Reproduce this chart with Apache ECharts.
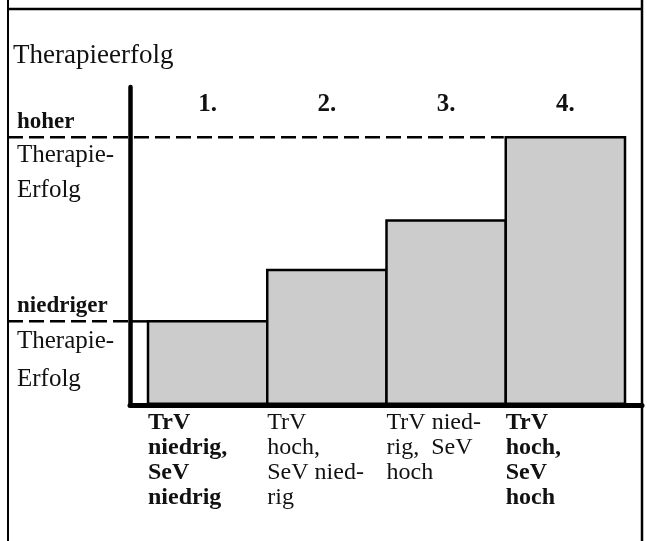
<!DOCTYPE html>
<html>
<head>
<meta charset="utf-8">
<script src="https://cdn.jsdelivr.net/npm/echarts@6/dist/echarts.min.js"></script>
<style>
html, body { margin: 0; padding: 0; background: #fff; }
#chart { width: 647px; height: 541px; }
</style>
</head>
<body>
<div id="chart"></div>
<script>
// data
const categories = ['1.', '2.', '3.', '4.'];
const successValues = [1.01, 1.62, 2.21, 3.2];
const groupLabels = [
  ['TrV', 'niedrig,', 'SeV', 'niedrig'],
  ['TrV', 'hoch,', 'SeV nied-', 'rig'],
  ['TrV nied-', 'rig,  SeV', 'hoch'],
  ['TrV', 'hoch,', 'SeV', 'hoch']
];
const boldGroups = [true, false, false, true];
const highLevel = 3.2;
const lowLevel = 1.01;
const highLabels = ['hoher', 'Therapie-', 'Erfolg'];
const lowLabels = ['niedriger', 'Therapie-', 'Erfolg'];
const yMax = 3.39;

// layout
const FONT = "'Liberation Serif', 'Times New Roman', serif";
const INK = '#111';
const FRAME_L = 8, FRAME_R = 642, FRAME_T = 9;
const AXIS_X = 130;
const BORDER = 2.5;
const BAR_L = 148, BAR_R = 625;
const bandWidth = (BAR_R - BAR_L) / categories.length;

const chart = echarts.init(document.getElementById('chart'));

const txt = (size, bold) => ({
  fontFamily: FONT,
  fontSize: size,
  fontWeight: bold ? 'bold' : 'normal',
  color: INK
});

// bottom description axis: ticks at the bar edges, labels start at each edge
const groupAxis = (bold) => ({
  gridIndex: 1,
  type: 'category',
  position: 'bottom',
  boundaryGap: false,
  data: ['0', '1', '2', '3', '4'],
  axisLine: { show: false },
  axisTick: { show: false },
  axisLabel: Object.assign({
    interval: 0,
    hideOverlap: false,
    align: 'left',
    margin: 5,
    lineHeight: 25,
    formatter: (v, i) =>
      i < groupLabels.length && boldGroups[i] === bold ? groupLabels[i].join('\n') : ''
  }, txt(24, bold))
});

chart.setOption({
  animation: false,
  textStyle: { fontFamily: FONT },
  title: {
    text: 'Therapieerfolg',
    left: 8,
    top: 37,
    textStyle: txt(27, false)
  },
  grid: [
    // frame of the axes (thick lines)
    { left: AXIS_X, right: 647 - FRAME_R, top: 87, bottom: 136 },
    // the bars
    { left: BAR_L, right: 647 - BAR_R, top: 120, bottom: 136 }
  ],
  xAxis: [
    {
      gridIndex: 1,
      type: 'category',
      position: 'top',
      data: categories,
      axisLine: { show: false },
      axisTick: { show: false },
      axisLabel: Object.assign({ margin: 3 }, txt(25, true))
    },
    {
      gridIndex: 0,
      type: 'category',
      position: 'bottom',
      data: categories,
      z: 10,
      axisLine: { lineStyle: { color: '#000', width: 5 } },
      axisTick: { show: false },
      axisLabel: { show: false }
    },
    groupAxis(true),
    groupAxis(false)
  ],
  yAxis: [
    {
      gridIndex: 0,
      type: 'value',
      z: 10,
      axisLine: { show: true, lineStyle: { color: '#000', width: 4.5 } },
      axisTick: { show: false },
      axisLabel: { show: false },
      splitLine: { show: false }
    },
    {
      gridIndex: 1,
      type: 'value',
      min: 0,
      max: yMax,
      show: false
    }
  ],
  series: [
    {
      type: 'bar',
      xAxisIndex: 0,
      yAxisIndex: 1,
      data: successValues,
      // the border is drawn inside each bar, widen so neighbours share one edge
      barWidth: bandWidth + BORDER,
      silent: true,
      itemStyle: { color: '#cccccc', borderColor: '#000', borderWidth: BORDER }
    }
  ]
});

// reference levels and labels, placed through the axis scales
const hiY = chart.convertToPixel({ yAxisIndex: 1 }, highLevel) + BORDER / 2;
const loY = chart.convertToPixel({ yAxisIndex: 1 }, lowLevel) + BORDER / 2;
const bar1Left = chart.convertToPixel({ xAxisIndex: 2 }, 0);
const bar4Left = chart.convertToPixel({ xAxisIndex: 2 }, 3);

const line = (x1, y1, x2, y2, w, dash) => ({
  type: 'line',
  silent: true,
  shape: { x1: x1, y1: y1, x2: x2, y2: y2 },
  style: { stroke: '#000', lineWidth: w, lineDash: dash || null }
});

const label = (text, y, bold) => ({
  type: 'text',
  silent: true,
  x: 17,
  y: y,
  style: {
    text: text,
    font: (bold ? 'bold 23px ' : '25px ') + FONT,
    fill: INK,
    verticalAlign: 'middle'
  }
});

chart.setOption({
  graphic: [
    line(FRAME_L, 0, FRAME_L, 541, 2),
    line(FRAME_R, 0, FRAME_R, 541, 2.5),
    line(FRAME_L, FRAME_T, FRAME_R, FRAME_T, 2.5),
    line(FRAME_L, hiY, bar4Left - 2, hiY, BORDER, [15, 6]),
    line(FRAME_L, loY, AXIS_X, loY, BORDER, [15, 6]),
    line(AXIS_X, loY, bar1Left, loY, BORDER),
    label(highLabels[0], hiY - 15, true),
    label(highLabels[1], hiY + 18, false),
    label(highLabels[2], hiY + 53, false),
    label(lowLabels[0], loY - 15, true),
    label(lowLabels[1], loY + 20, false),
    label(lowLabels[2], loY + 58, false)
  ]
});
</script>
</body>
</html>
